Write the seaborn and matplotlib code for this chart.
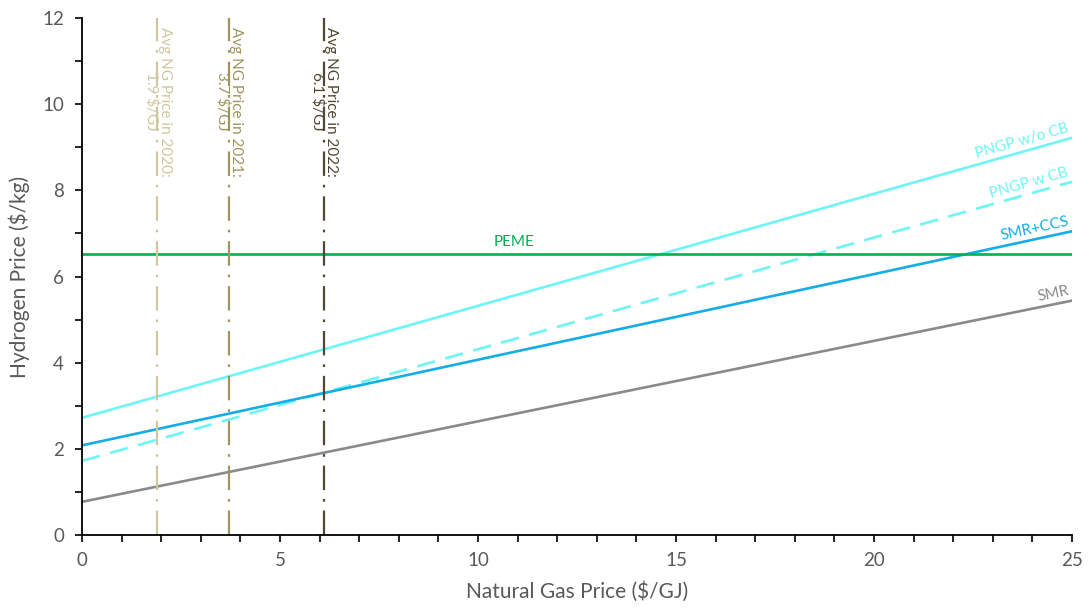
import numpy as np
import pandas as pd
import matplotlib
matplotlib.use("Agg")
import matplotlib.pyplot as plt
import seaborn as sns

# ---- data ----
ng_price = [0, 25]
pngp_wo_cb = [2.72, 9.22]
pngp_w_cb = [1.72, 8.20]
smr_ccs = [2.08, 7.05]
smr = [0.77, 5.44]
peme = [6.53, 6.53]

series_names = ["PNGP w/o CB", "PNGP w CB", "SMR+CCS", "SMR", "PEME"]
series_values = [pngp_wo_cb, pngp_w_cb, smr_ccs, smr, peme]
series_colors = ["#6EF5F5", "#6EF5F5", "#13ADE8", "#8A8A8A", "#00B050"]

ng_years = ["2020", "2021", "2022"]
ng_avg = [1.9, 3.7, 6.1]
ng_colors = ["#CFC79E", "#9E955E", "#4F4832"]

x_ticks = [0, 5, 10, 15, 20, 25]
y_ticks = [0, 2, 4, 6, 8, 10, 12]

sns.set_theme(style="white")
plt.rcParams['font.family'] = ['Lato', 'DejaVu Sans']

fig = plt.figure(figsize=(10.9, 6.11), dpi=100)
ax = fig.add_axes([82/1090, 1-535/611, (1072-82)/1090, (535-18)/611])

rows = []
for name, vals in zip(series_names, series_values):
    for x, y in zip(ng_price, vals):
        rows.append({"x": x, "y": y, "series": name})
df = pd.DataFrame(rows)

for name, color in zip(series_names, series_colors):
    sub = df[df.series == name]
    ls = "--" if name == "PNGP w CB" else "-"
    sns.lineplot(data=sub, x="x", y="y", ax=ax, color=color, lw=1.9,
                 linestyle=ls, legend=False)
    if ls == "--":
        ax.lines[-1].set_dashes((7, 4))

for xv, yr, c in zip(ng_avg, ng_years, ng_colors):
    ax.axvline(xv, color=c, lw=1.6, dashes=(11, 4, 1.2, 4))
    ax.text(xv + 0.02, 11.8, f"Avg NG Price in {yr}:\n{xv} $/GJ", rotation=270,
            ha="center", va="top", multialignment="center",
            color=c, fontsize=11, linespacing=0.95)

ax.set_xlim(0, 25)
ax.set_ylim(0, 12)
ax.set_xticks(x_ticks)
ax.set_yticks(y_ticks)
ax.set_xticks(np.arange(0, 26, 1), minor=True)
ax.set_yticks(np.arange(0, 13, 1), minor=True)
ax.tick_params(axis="both", which="both", direction="out", length=5,
               width=1.2, color="black", labelsize=13.5, labelcolor="#595959",
               bottom=True, left=True)
ax.tick_params(axis="x", pad=7)
ax.tick_params(axis="y", pad=8)
for s in ["top", "right"]:
    ax.spines[s].set_visible(False)
for s in ["left", "bottom"]:
    ax.spines[s].set_color("black")
    ax.spines[s].set_linewidth(1.3)

ax.set_xlabel("Natural Gas Price ($/GJ)", fontsize=15, color="#595959", labelpad=9)
ax.set_ylabel("Hydrogen Price ($/kg)", fontsize=15, color="#595959", labelpad=9)

# line labels
fig.canvas.draw()
def angle_of(vals):
    p0 = ax.transData.transform((ng_price[0], vals[0]))
    p1 = ax.transData.transform((ng_price[1], vals[1]))
    return np.degrees(np.arctan2(p1[1]-p0[1], p1[0]-p0[0]))

def yat(vals, x):
    return vals[0] + (vals[1]-vals[0]) * (x - ng_price[0]) / (ng_price[1]-ng_price[0])

for name, vals, color in zip(series_names[:4], series_values[:4], series_colors[:4]):
    xx = 24.95
    ax.text(xx, yat(vals, xx) + 0.08, name, rotation=angle_of(vals),
            rotation_mode="anchor", ha="right", va="bottom", color=color,
            fontsize=11)
ax.text(10.9, peme[0] + 0.1, "PEME", ha="center", va="bottom",
        color=series_colors[4], fontsize=11)

fig.savefig("out.png", dpi=100)
